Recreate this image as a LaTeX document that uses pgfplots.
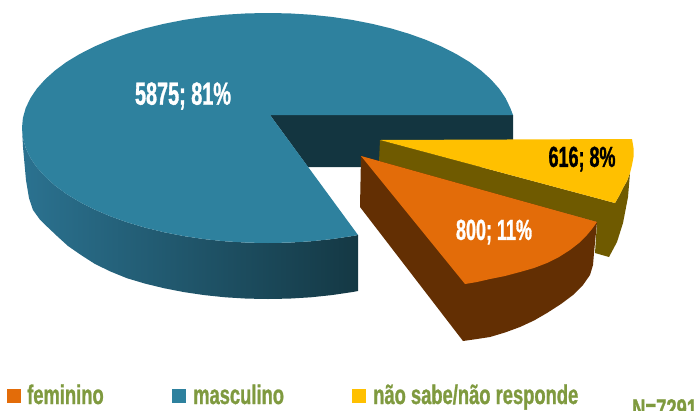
\documentclass[border=0pt]{standalone}
\usepackage{pgfplots}
\pgfplotsset{compat=1.18}
\usepackage{fontspec}
\setmainfont[FakeStretch=0.62,BoldFeatures={FakeBold=1}]{Liberation Sans}
\newfontfamily\legfont[FakeStretch=0.68,BoldFeatures={FakeBold=1}]{Liberation Sans}
\definecolor{bluetop}{HTML}{2E819E}
\definecolor{blueside}{HTML}{2B7290}
\definecolor{bluedark}{HTML}{133540}
\definecolor{orangetop}{HTML}{E36C09}
\definecolor{orangeside}{HTML}{632F03}
\definecolor{yellowtop}{HTML}{FFC000}
\definecolor{yellowside}{HTML}{6F5A00}
\definecolor{legendtext}{HTML}{7F9A3F}
\begin{document}
\begin{tikzpicture}
\path[use as bounding box] (0,0) rectangle (695pt,410pt);
\clip (0,0) rectangle (695pt,410pt);
\begin{axis}[
    at={(0,0)}, anchor=south west,
    scale only axis, width=695pt, height=410pt,
    xmin=0, xmax=695, ymin=0, ymax=410,
    y dir=reverse,
    hide axis,
    clip=false,
    every axis plot/.append style={draw=none, forget plot},
    ]
% masculino: inner wall, outer wall, top
\addplot[fill=bluedark] coordinates {(270,115) (513,115) (513,167) (308,167)};
\addplot[left color=blueside, right color=bluedark!95!blueside] coordinates {
    (358,235) (352.1,236.1) (331.7,239.1) (310.7,241.3) (289.4,242.6) (268,243)
    (246.6,242.6) (225.3,241.3) (204.3,239.1) (183.9,236.1) (164,232.2) (145,227.6)
    (126.9,222.2) (109.9,216.1) (94.1,209.3) (79.6,201.9) (66.5,194) (55,185.5)
    (45.1,176.6) (36.8,167.3) (30.4,157.8) (25.7,148) (22.9,138) (22,128)
    (23,147) (26,180) (29,198) (33,210) (39.5,219) (47.5,227) (57,236) (68,246)
    (81,255) (95,264) (110.5,271.5) (126.9,278.2) (145,283.6) (164,288.2) (183.9,292.1)
    (204.3,295.1) (225.3,297.3) (246.6,298.6) (268,299) (289.4,298.6) (310.7,297.3)
    (331.7,295.1) (352.1,292.1) (358,291)};
\addplot[fill=bluetop] coordinates {
    (270,115) (358,235) (352.1,236.1) (331.7,239.1) (310.7,241.3) (289.4,242.6) (268,243)
    (246.6,242.6) (225.3,241.3) (204.3,239.1) (183.9,236.1) (164,232.2) (145,227.6)
    (126.9,222.2) (109.9,216.1) (94.1,209.3) (79.6,201.9) (66.5,194) (55,185.5)
    (45.1,176.6) (36.8,167.3) (30.4,157.8) (25.7,148) (22.9,138) (22,128)
    (22.9,118) (25.7,108) (30.4,98.2) (36.8,88.7) (45.1,79.4) (55,70.5) (66.5,62)
    (79.6,54.1) (94.1,46.7) (109.9,39.9) (126.9,33.8) (145,28.4) (164,23.8) (183.9,19.9)
    (204.3,16.9) (225.3,14.7) (246.6,13.4) (268,13) (289.4,13.4) (310.7,14.7) (331.7,16.9)
    (352.1,19.9) (372,23.8) (391,28.4) (409.1,33.8) (426.1,39.9) (441.9,46.7) (456.4,54.1)
    (469.5,62) (481,70.5) (490.9,79.4) (499.2,88.7) (505.6,98.2) (510.3,108) (513,115)};
% nao sabe: cut wall and top
\addplot[fill=yellowside] coordinates {
    (380,140) (379,162) (597,222) (595,253) (609,257) (617,242) (623,223) (628,197)
    (630,173) (627,181) (623,188) (619,196) (615,203)};
\addplot[fill=yellowtop] coordinates {
    (380,140) (632,139) (633.5,148) (633.5,157) (632,165) (630,173) (627,181) (623,188)
    (619,196) (615,203)};
% feminino: wall and top
\addplot[fill=orangeside] coordinates {
    (361,156) (360,207) (463,341) (477,339) (490,337) (505,332.5) (520,327) (534,320.5)
    (547,313) (561,304) (573,295) (583,285) (590,275) (593,265) (594,253) (597,222)};
\addplot[fill=orangetop] coordinates {
    (361,156) (597,222) (592,229) (587,235) (579,243) (570,250) (559,257) (547,263)
    (534,268) (520,272) (505,276) (490,279) (477,282) (465,284)};
% legend squares
\addplot[fill=orangetop] coordinates {(7,389) (21,389) (21,403) (7,403)};
\addplot[fill=bluetop] coordinates {(172,389) (186,389) (186,403) (172,403)};
\addplot[fill=yellowtop] coordinates {(352,389) (366,389) (366,403) (352,403)};
% labels
\node[white, font=\fontsize{32}{32}\selectfont\bfseries] at (axis cs:183,96) {5875; 81\%};
\node[white, font=\fontsize{29}{29}\selectfont\bfseries] at (axis cs:494,232) {800; 11\%};
\node[black, font=\fontsize{29}{29}\selectfont\bfseries] at (axis cs:582,159) {616; 8\%};
\tikzset{legtext/.style={legendtext, anchor=base west, inner sep=0pt, font=\legfont\fontsize{27}{27}\selectfont\bfseries}}
\node[legtext] at (axis cs:27,404) {feminino};
\node[legtext] at (axis cs:193,404) {masculino};
\node[legtext] at (axis cs:373,404) {não sabe/não responde};
\node[legtext] at (axis cs:632,418) {N=7291};
\end{axis}
\end{tikzpicture}
\end{document}
